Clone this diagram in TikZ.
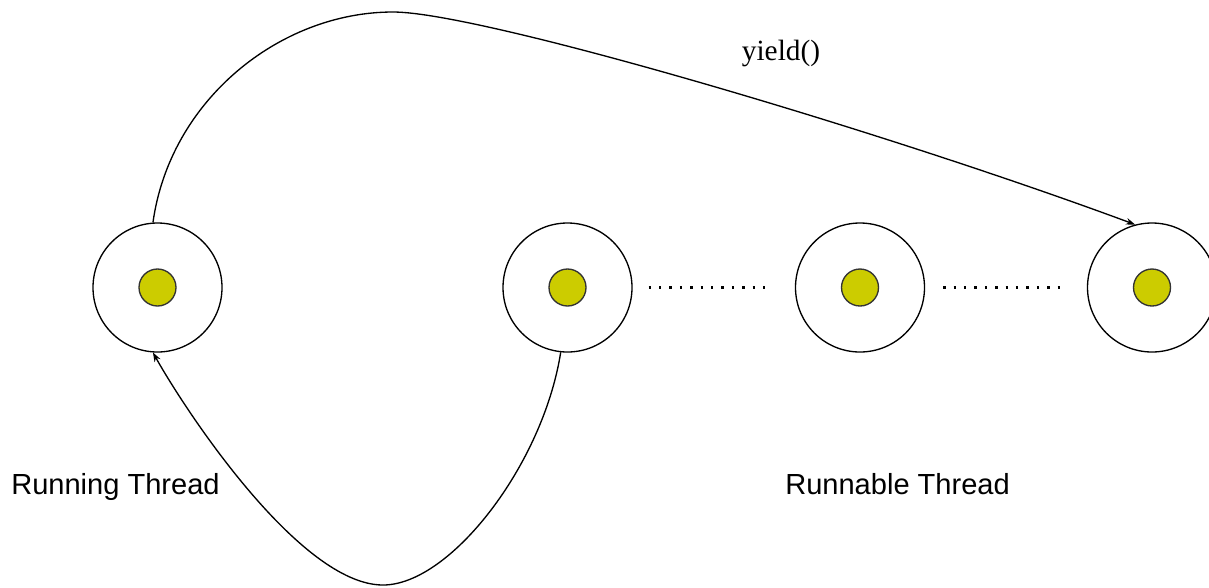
\documentclass[tikz,border=0pt]{standalone}
\usepackage{fontspec}
\setmainfont{Liberation Serif}
\newfontfamily\labelfont{Liberation Sans}
\usetikzlibrary{arrows.meta,calc}
\definecolor{dotyellow}{RGB}{204,204,0}
\begin{document}
\begin{tikzpicture}[x=0.75pt,y=-0.75pt,
  thread/.style={circle,draw=black,line width=1pt,fill=white,minimum size=96.75pt,inner sep=0pt},
  core/.style={circle,draw=black!80,line width=1pt,fill=dotyellow,minimum size=27.75pt,inner sep=0pt},
  link/.style={line width=1pt,-{Stealth[length=7pt,width=5pt]}},
  dots/.style={line width=1.8pt,dash pattern=on 1.8pt off 6pt},
  lbl/.style={inner sep=0pt,font=\labelfont\fontsize{21.8}{26}\selectfont},
  ylbl/.style={inner sep=0pt,font=\fontsize{22}{26}\selectfont}]
\useasboundingbox (0,0) rectangle (1209,587);
\fill[white] (0,0) rectangle (1209,587);
\begin{scope}
\clip (0,0) rectangle (1209,587);
\node[thread] (c1) at (157.5,287.5) {};
\node[thread] (c2) at (567.5,287.5) {};
\node[thread] (c3) at (860,287.5) {};
\node[thread] (c4) at (1152,287.5) {};
\node[core] (d1) at (c1) {};
\node[core] (d2) at (c2) {};
\node[core] (d3) at (c3) {};
\node[core] (d4) at (c4) {};
\end{scope}
\draw[dots] ($(c2.east)+(16,0)$) -- ($(c3.west)+(-22,0)$);
\draw[dots] ($(c3.east)+(18,0)$) -- ($(c4.west)+(-22,0)$);
\coordinate (top) at (393,12);
\coordinate (bot) at (383,585);
\draw[link] (c1.94) .. controls (170,100) and (280,12) .. (top)
  .. controls (480,12) and (880,130) .. (c4.105);
\draw[link] (c2.264) .. controls (543,465) and (450,585) .. (bot)
  .. controls (300,585) and (185,410) .. (c1.266);
\node[ylbl,anchor=base] (y) at (781,60) {yield()};
\node[lbl,anchor=base west] (run) at (11,494) {Running Thread};
\node[lbl,anchor=base west] (rnb) at (785,494) {Runnable Thread};
\end{tikzpicture}
\end{document}
